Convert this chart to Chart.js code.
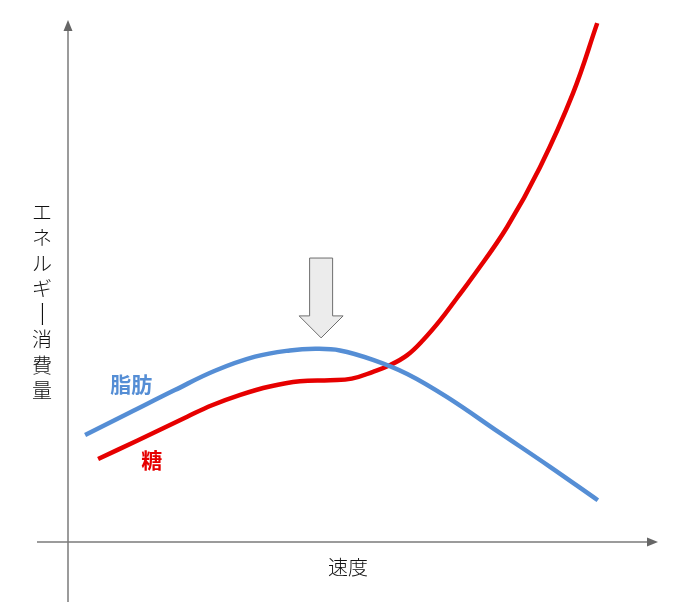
<!DOCTYPE html>
<html>
<head>
<meta charset="utf-8">
<script src="https://cdn.jsdelivr.net/npm/chart.js@4"></script>
<style>
	html, body { margin: 0; padding: 0; background: #fff; }
	#wrap { width: 687px; height: 612px; }
</style>
</head>
<body>
<div id="wrap"><canvas id="chart" width="687" height="612"></canvas></div>
<script>
// speed (x) / energy use (y), both on a 0-100 scale
const fatSpeed = [2.9, 10.5, 18.1, 24.9, 31.7, 37.6, 41.9, 46.1, 51.7, 57.5, 64.2, 73.2, 81.7, 89.8];
const fatEnergy = [20.5, 24.8, 29.1, 32.8, 35.5, 36.7, 37.0, 36.7, 34.9, 32.2, 27.8, 20.9, 14.4, 8.0];
const sugarSpeed = [5.1, 11.7, 20.2, 24.4, 29.2, 34.2, 39.3, 44.4, 48.1, 51.7, 54.6, 57.5, 60.2, 63.1, 65.9, 68.6, 74.4, 80.0, 85.6, 89.7];
const sugarEnergy = [15.9, 19.4, 24.0, 26.2, 28.2, 29.8, 30.8, 31.0, 31.3, 32.6, 33.9, 35.8, 38.7, 42.5, 46.7, 50.8, 60.3, 71.8, 86.0, 99.4];

const seriesNames = ['脂肪', '糖'];
const seriesColors = ['#558ED5', '#E60000'];
const labelSpeed = [10.7, 14.2];
const labelEnergy = [30.3, 15.7];

const xTitle = '速度';
const yTitle = 'エネルギー消費量';
// the grey marker arrow over the fat peak
const markSpeed = 42.9;
const markTop = 54.4;
const markTip = 39.1;

const toPoints = (xs, ys) => xs.map((x, i) => ({ x: x, y: ys[i] }));

const jpFont = '"Noto Sans CJK JP", "Noto Sans", sans-serif';

const decorations = {
	id: 'decorations',
	beforeDatasetsDraw(chart) {
		const ctx = chart.ctx;
		const xs = chart.scales.x;
		const ys = chart.scales.y;
		const x0 = xs.getPixelForValue(0);
		const y0 = ys.getPixelForValue(0);
		const yTop = ys.getPixelForValue(100);
		const xEnd = xs.getPixelForValue(100);

		ctx.save();
		ctx.strokeStyle = '#7a7a7a';
		ctx.fillStyle = '#666';
		ctx.lineWidth = 1.5;
		// y axis
		ctx.beginPath();
		ctx.moveTo(x0, y0 + 60);
		ctx.lineTo(x0, yTop + 10);
		ctx.stroke();
		ctx.beginPath();
		ctx.moveTo(x0, yTop);
		ctx.lineTo(x0 - 4.5, yTop + 11);
		ctx.lineTo(x0 + 4.5, yTop + 11);
		ctx.closePath();
		ctx.fill();
		// x axis
		ctx.beginPath();
		ctx.moveTo(x0 - 31, y0);
		ctx.lineTo(xEnd - 9, y0);
		ctx.stroke();
		ctx.beginPath();
		ctx.moveTo(xEnd, y0);
		ctx.lineTo(xEnd - 11, y0 - 4.5);
		ctx.lineTo(xEnd - 11, y0 + 4.5);
		ctx.closePath();
		ctx.fill();

		// axis titles
		ctx.fillStyle = '#111';
		ctx.textAlign = 'center';
		ctx.textBaseline = 'middle';
		ctx.font = '300 20px ' + jpFont;
		ctx.fillText(xTitle, (x0 + xEnd) / 2 - 15, y0 + 25);
		const chars = Array.from(yTitle);
		chars.forEach((ch, i) => {
			const cy = 212 + i * 25.5;
			if (ch === 'ー') {
				ctx.save();
				ctx.translate(42, cy);
				ctx.rotate(Math.PI / 2);
				ctx.scale(1.4, 1);
				ctx.fillText(ch, 0, 0);
				ctx.restore();
			} else {
				ctx.fillText(ch, 42, cy);
			}
		});

		// series labels
		ctx.font = 'bold 21px ' + jpFont;
		seriesNames.forEach((name, i) => {
			ctx.fillStyle = seriesColors[i];
			ctx.fillText(name, xs.getPixelForValue(labelSpeed[i]), ys.getPixelForValue(labelEnergy[i]));
		});

		// marker arrow
		const mx = xs.getPixelForValue(markSpeed);
		const mTop = ys.getPixelForValue(markTop);
		const mTip = ys.getPixelForValue(markTip);
		const headH = 22;
		ctx.beginPath();
		ctx.moveTo(mx - 11.5, mTop);
		ctx.lineTo(mx + 11.5, mTop);
		ctx.lineTo(mx + 11.5, mTip - headH);
		ctx.lineTo(mx + 22, mTip - headH);
		ctx.lineTo(mx, mTip);
		ctx.lineTo(mx - 22, mTip - headH);
		ctx.lineTo(mx - 11.5, mTip - headH);
		ctx.closePath();
		ctx.fillStyle = '#ececec';
		ctx.fill();
		ctx.strokeStyle = '#6e6e6e';
		ctx.lineWidth = 1;
		ctx.stroke();
		ctx.restore();
	}
};

const lineStyle = {
	borderWidth: 4.5,
	pointRadius: 0,
	tension: 0.4,
	borderCapStyle: 'butt',
	clip: false,
};

new Chart(document.getElementById('chart'), {
	type: 'line',
	data: {
		datasets: [
			Object.assign({
				label: seriesNames[0],
				data: toPoints(fatSpeed, fatEnergy),
				borderColor: seriesColors[0],
			}, lineStyle),
			Object.assign({
				label: seriesNames[1],
				data: toPoints(sugarSpeed, sugarEnergy),
				borderColor: seriesColors[1],
			}, lineStyle),
		],
	},
	options: {
		responsive: false,
		animation: false,
		devicePixelRatio: 1,
		layout: { padding: { left: 68, right: 29, top: 20, bottom: 70 } },
		plugins: { legend: { display: false }, tooltip: { enabled: false } },
		scales: {
			x: { type: 'linear', min: 0, max: 100, display: false },
			y: { type: 'linear', min: 0, max: 100, display: false },
		},
	},
	plugins: [decorations],
});
</script>
</body>
</html>
